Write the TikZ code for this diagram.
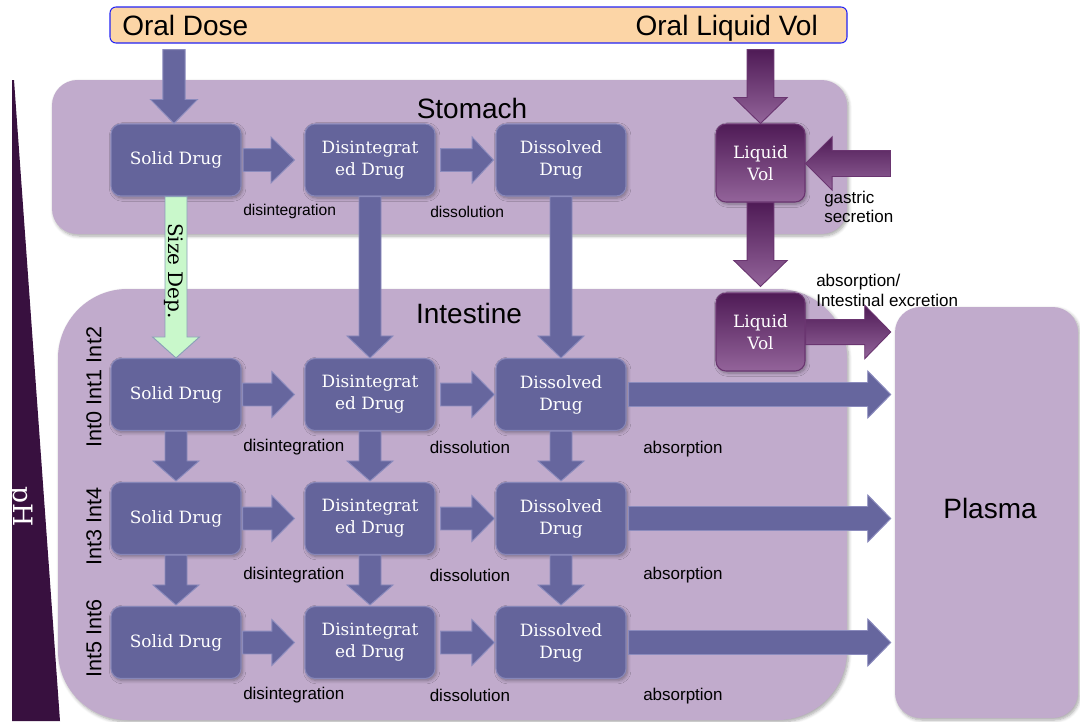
\documentclass[tikz,border=0pt]{standalone}
\usepackage{fontspec}
\setmainfont{DejaVu Serif}
\newfontfamily\sansfam{Liberation Sans}
\usetikzlibrary{calc,shadows.blur}

\definecolor{panelfill}{HTML}{C1ABCC}
\definecolor{boxfill}{HTML}{64649B}
\definecolor{boxline}{HTML}{8686B8}
\definecolor{arrfill}{HTML}{66669E}
\definecolor{arrline}{HTML}{8B8BBD}
\definecolor{liqtop}{HTML}{4F1B56}
\definecolor{liqbot}{HTML}{93649A}
\definecolor{liqline}{HTML}{6A3570}
\definecolor{greenfill}{HTML}{C9F8CB}
\definecolor{greenline}{HTML}{8A9FB8}
\definecolor{peach}{HTML}{FCD5A6}
\definecolor{barline}{HTML}{2323F5}
\definecolor{phfill}{HTML}{38103F}

% block arrows: style, start, tip, shaft half-width, head half-width, head length
\newcommand\blockright[6]{%
  \path[#1] let \p1=(#2), \p2=(#3) in
    ({\x1},{\y1+#4}) -- ({\x2-#6},{\y1+#4}) -- ({\x2-#6},{\y1+#5}) -- ({\x2},{\y1})
    -- ({\x2-#6},{\y1-#5}) -- ({\x2-#6},{\y1-#4}) -- ({\x1},{\y1-#4}) -- cycle;}
\newcommand\blockleft[6]{%
  \path[#1] let \p1=(#2), \p2=(#3) in
    ({\x1},{\y1+#4}) -- ({\x2+#6},{\y1+#4}) -- ({\x2+#6},{\y1+#5}) -- ({\x2},{\y1})
    -- ({\x2+#6},{\y1-#5}) -- ({\x2+#6},{\y1-#4}) -- ({\x1},{\y1-#4}) -- cycle;}
\newcommand\blockdown[6]{%
  \path[#1] let \p1=(#2), \p2=(#3) in
    ({\x1-#4},{\y1}) -- ({\x1-#4},{\y2+#6}) -- ({\x1-#5},{\y2+#6}) -- ({\x1},{\y2})
    -- ({\x1+#5},{\y2+#6}) -- ({\x1+#4},{\y2+#6}) -- ({\x1+#4},{\y1}) -- cycle;}

\begin{document}
\begin{tikzpicture}[x=0.75pt,y=-0.75pt,
  softshadow/.style={blur shadow={shadow xshift=1.2pt, shadow yshift=-1.5pt,
      shadow blur radius=2.5pt, shadow blur steps=6, shadow opacity=35}},
  panel/.style={fill=panelfill, draw=none, inner sep=0pt, softshadow},
  drugbox/.style={rectangle, rounded corners=7.5pt, fill=boxfill, draw=boxline,
      line width=0.8pt, minimum width=97.5pt, minimum height=54pt, text=white,
      align=center, inner sep=1pt, font=\fontsize{12.7}{16.5}\selectfont, softshadow},
  liqbox/.style={drugbox, top color=liqtop, bottom color=liqbot, draw=liqline,
      minimum width=66.75pt, minimum height=58.5pt},
  flatarrow/.style={fill=arrfill, draw=arrline, line width=0.7pt},
  liqarrow/.style={top color=liqtop, bottom color=liqbot, draw=liqline, line width=0.7pt},
  greenarrow/.style={fill=greenfill, draw=greenline, line width=0.7pt},
  bigtext/.style={font=\sansfam\fontsize{21}{25}\selectfont, inner sep=0pt},
  lbl/.style={font=\sansfam\fontsize{12.75}{15}\selectfont, inner sep=0pt, anchor=west},
  smalllbl/.style={font=\sansfam\fontsize{11.7}{14}\selectfont, inner sep=0pt, anchor=west},
  intlbl/.style={font=\sansfam\fontsize{16.2}{19}\selectfont, inner sep=0pt, rotate=90}]

\useasboundingbox (0,0) rectangle (1080,721);

% compartments
\node[panel, rounded corners=19pt, minimum width=596.25pt, minimum height=115.5pt]
  (stomach) at (449.5,157) {};
\node[panel, rounded corners=52pt, minimum width=591.75pt, minimum height=323.25pt]
  (intestine) at (452.5,504.5) {};
\node[panel, rounded corners=19pt, minimum width=137.25pt, minimum height=308.25pt]
  (plasma) at (986.5,512.5) {};
\node[bigtext, anchor=base] (plasmalbl) at (990,518) {Plasma};

% pH gradient wedge
\fill[phfill] (12,80) -- (14,80) -- (60,721) -- (12,721) -- cycle;
\node[rotate=-90, text=white, inner sep=0pt, font=\fontsize{20}{24}\selectfont]
  (ph) at (20,507) {pH};

% dose bar
\node[draw=barline, fill=peach, rounded corners=4.5pt, line width=0.8pt,
  minimum width=552.75pt, minimum height=27pt, inner sep=0pt] (oral) at (478.5,25) {};
\node[bigtext, anchor=base west] (dosetxt) at (122,35.5) {Oral Dose};
\node[bigtext, anchor=base east] (liqtxt) at (818,35.5) {Oral Liquid Vol};

\node[bigtext, anchor=base] (stomlbl) at (472,118) {Stomach};
\node[bigtext, anchor=base] (intlbl) at (469,323) {Intestine};

% drug states
\node[drugbox] (s0) at (176,160) {Solid Drug};
\node[drugbox] (d0) at (370,160) {Disintegrat\\ed Drug};
\node[drugbox] (v0) at (561,160) {Dissolved\\Drug};
\foreach \k/\yy in {1/394.5, 2/518.5, 3/642.5} {
  \node[drugbox] (s\k) at (176,\yy) {Solid Drug};
  \node[drugbox] (d\k) at (370,\yy) {Disintegrat\\ed Drug};
  \node[drugbox] (v\k) at (561,\yy) {Dissolved\\Drug};
}
\node[liqbox] (lv0) at (760.5,163) {Liquid\\Vol};
\node[liqbox] (lv1) at (760.5,332) {Liquid\\Vol};

% inputs
\blockdown{flatarrow}{$(oral.south -| s0.north)+(-2,6)$}{$(s0.north)+(-2,0)$}{8.4pt}{17.6pt}{18pt}
\blockdown{liqarrow}{$(oral.south -| lv0.north)+(0,6)$}{lv0.north}{10pt}{20pt}{19.5pt}
\coordinate (gsrc) at (890.5,163.5);
\blockleft{liqarrow}{gsrc}{lv0.east}{9.75pt}{20pt}{20pt}
\blockdown{liqarrow}{lv0.south}{$(lv1.north)+(0,-6)$}{10pt}{20pt}{19.5pt}
\blockright{liqarrow}{lv1.east}{$(lv1.east -| plasma.west)+(-4,0)$}{9.4pt}{20pt}{19.5pt}

% stomach to intestine
\blockdown{greenarrow}{s0.south}{s1.north}{8.25pt}{17.6pt}{15.75pt}
\blockdown{flatarrow}{d0.south}{d1.north}{8.25pt}{17.25pt}{16.5pt}
\blockdown{flatarrow}{v0.south}{v1.north}{8.25pt}{17.25pt}{16.5pt}
\node[rotate=-90, inner sep=0pt, font=\fontsize{15}{18}\selectfont] (sizedep) at (174,271) {Size Dep.};

% stomach transitions
\blockright{flatarrow}{$(s0.east)+(1.5,0)$}{$(d0.west)+(-10,0)$}{8.6pt}{17.25pt}{17.6pt}
\blockright{flatarrow}{$(d0.east)+(5,0)$}{$(v0.west)+(-2,0)$}{8.6pt}{17.25pt}{16pt}

% intestine transitions
\foreach \k in {1,2,3} {
  \blockright{flatarrow}{$(s\k.east)+(1,0)$}{$(d\k.west)+(-10,0)$}{8.6pt}{17.25pt}{17pt}
  \blockright{flatarrow}{$(d\k.east)+(5,0)$}{$(v\k.west)+(-1,0)$}{8.6pt}{17.25pt}{17pt}
  \blockright{flatarrow}{$(v\k.east)+(2,0)$}{$(v\k.east -| plasma.west)+(-4,0)$}{9pt}{17.6pt}{17.25pt}
}
\foreach \k [evaluate=\k as \kn using int(\k+1)] in {1,2} {
  \blockdown{flatarrow}{s\k.south}{$(s\kn.north)+(0,-1)$}{8.25pt}{17.25pt}{15pt}
  \blockdown{flatarrow}{d\k.south}{$(d\kn.north)+(0,-1)$}{8.25pt}{17.25pt}{15pt}
  \blockdown{flatarrow}{v\k.south}{$(v\kn.north)+(0,-1)$}{8.25pt}{17.25pt}{15pt}
}

% process labels
\node[smalllbl] (dis0) at (243,211.5) {disintegration};
\node[smalllbl] (sol0) at (430,211.5) {dissolution};
\foreach \k/\yy/\ya in {1/447/449, 2/575/575.5, 3/695.5/696.5} {
  \node[lbl] (dis\k) at (243,\yy) {disintegration};
  \node[lbl] (sol\k) at (429.5,\yy) {dissolution};
  \node[lbl] (abs\k) at (643,\ya) {absorption};
}
\node[lbl, anchor=north west, align=left, font=\sansfam\fontsize{12.75}{14.25}\selectfont]
  (gastric) at (824,191) {gastric\\secretion};
\node[lbl, anchor=north west, align=left, font=\sansfam\fontsize{12.75}{15}\selectfont]
  (excr) at (816,274) {absorption/\\Intestinal excretion};

% segment labels
\node[intlbl] (seg1) at (94,387) {Int0 Int1 Int2};
\node[intlbl] (seg2) at (94,526) {Int3 Int4};
\node[intlbl] (seg3) at (94,638) {Int5 Int6};
\end{tikzpicture}
\end{document}
